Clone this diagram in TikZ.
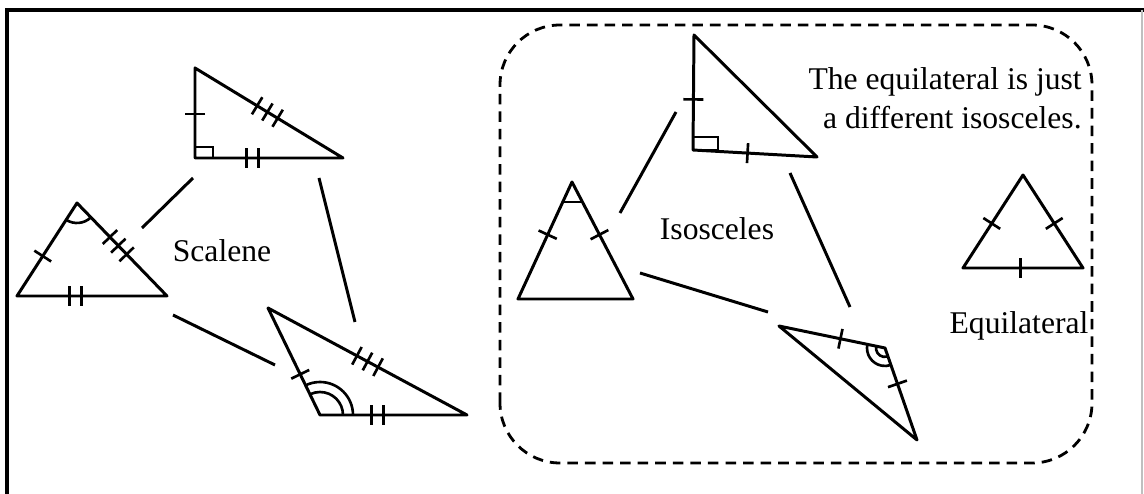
\documentclass[tikz,border=0pt]{standalone}
\usepackage{fontspec}
\setmainfont{Liberation Serif}
\usetikzlibrary{calc,angles,decorations.markings}

\begin{document}
\begin{tikzpicture}[
    x=0.02cm, y=0.02cm,
    tri/.style={line width=1.7pt, line join=round, line cap=round},
    link/.style={line width=1.7pt},
    mk/.style={line width=1.5pt},
    onetick/.style={decoration={markings, mark=at position #1 with {\draw[mk] (0,-10)--(0,10);}}, decorate},
    twoticks/.style={decoration={markings, mark=at position #1 with {\draw[mk] (-6,-10)--(-6,10) (6,-10)--(6,10);}}, decorate},
    threeticks/.style={decoration={markings, mark=at position #1 with {\draw[mk] (-12,-10)--(-12,10) (0,-10)--(0,10) (12,-10)--(12,10);}}, decorate},
    lbl/.style={font=\fontsize{18}{22}\selectfont, inner sep=0pt},
    group/.style={line width=1.6pt, dash pattern=on 6pt off 4pt, rounded corners=1.2cm},
  ]
  \useasboundingbox (0,0) rectangle (1144,494);
  % frame
  \draw[line width=2pt] (7,0) -- (7,484) -- (1144,484);
  \draw[black!25, line width=0.6pt] (1142,484) -- (1142,0);

  % scalene, right angled
  \coordinate (srt) at (195,426);
  \coordinate (src) at (195,336);
  \coordinate (srr) at (343,336);
  \draw[tri] (srt) -- (src) -- (srr) -- cycle;
  \draw[mk] (src) rectangle ++(18,11);
  \path[onetick=0.49] (src) -- (srt);
  \path[threeticks=0.49] (srt) -- (srr);
  \path[twoticks=0.39] (src) -- (srr);

  % scalene, acute
  \coordinate (saa) at (77,291);
  \coordinate (sal) at (17,198);
  \coordinate (sar) at (167,198);
  \draw[tri] (saa) -- (sal) -- (sar) -- cycle;
  \path[onetick=0.43] (sal) -- (saa);
  \path[threeticks=0.46] (saa) -- (sar);
  \path[twoticks=0.39] (sal) -- (sar);
  \pic[draw, mk, angle radius=0.4cm] {angle=sal--saa--sar};

  % scalene, obtuse
  \coordinate (sop) at (268,186);
  \coordinate (soq) at (320,79);
  \coordinate (sor) at (467,79);
  \draw[tri] (sop) -- (soq) -- (sor) -- cycle;
  \path[onetick=0.62] (sop) -- (soq);
  \path[threeticks=0.5] (sop) -- (sor);
  \path[twoticks=0.39] (soq) -- (sor);
  \pic[draw, mk, angle radius=0.66cm] {angle=sor--soq--sop};
  \pic[draw, mk, angle radius=0.46cm] {angle=sor--soq--sop};

  \node[lbl] (scal) at (222,243) {Scalene};
  \coordinate (l1a) at (193,316); \coordinate (l1b) at (142,266);
  \coordinate (l2a) at (319,316); \coordinate (l2b) at (355,172);
  \coordinate (l3a) at (173,179); \coordinate (l3b) at (275,129);
  \draw[link] (l1a) -- (l1b);
  \draw[link] (l2a) -- (l2b);
  \draw[link] (l3a) -- (l3b);

  % isosceles group
  \draw[group] (500,31) rectangle (1092,469);

  % isosceles, right angled
  \coordinate (irt) at (694,459);
  \coordinate (irc) at (693,344);
  \coordinate (irr) at (817,337);
  \draw[tri] (irt) -- (irc) -- (irr) -- cycle;
  \draw[mk] (irc) rectangle ++(25,13);
  \path[onetick=0.44] (irc) -- (irt);
  \path[onetick=0.44] (irc) -- (irr);

  % isosceles, acute
  \coordinate (ita) at (572,312);
  \coordinate (itl) at (518,195);
  \coordinate (itr) at (633,195);
  \draw[tri] (ita) -- (itl) -- (itr) -- cycle;
  \draw[mk] ($(ita)!0.17!(itl)$) -- ($(ita)!0.17!(itr)$);
  \path[onetick=0.55] (itl) -- (ita);
  \path[onetick=0.55] (itr) -- (ita);

  % isosceles, obtuse
  \coordinate (iol) at (779,168);
  \coordinate (ioo) at (885,146);
  \coordinate (iod) at (917,54);
  \draw[tri] (iol) -- (ioo) -- (iod) -- cycle;
  \path[onetick=0.58] (iol) -- (ioo);
  \path[onetick=0.39] (ioo) -- (iod);
  \pic[draw, mk, angle radius=0.36cm] {angle=iol--ioo--iod};
  \pic[draw, mk, angle radius=0.18cm] {angle=iol--ioo--iod};

  \node[lbl] (isos) at (717,265) {Isosceles};
  \coordinate (l4a) at (676,382); \coordinate (l4b) at (620,281);
  \coordinate (l5a) at (640,221); \coordinate (l5b) at (768,182);
  \coordinate (l6a) at (790,321); \coordinate (l6b) at (850,187);
  \draw[link] (l4a) -- (l4b);
  \draw[link] (l5a) -- (l5b);
  \draw[link] (l6a) -- (l6b);

  % equilateral
  \coordinate (eqa) at (1023,319);
  \coordinate (eql) at (963,226);
  \coordinate (eqr) at (1083,226);
  \draw[tri] (eqa) -- (eql) -- (eqr) -- cycle;
  \path[onetick=0.48] (eql) -- (eqa);
  \path[onetick=0.48] (eqr) -- (eqa);
  \path[onetick=0.48] (eql) -- (eqr);

  \node[lbl] (equi) at (1019,168) {Equilateral};
  \node[lbl, align=right, anchor=east] (note) at (1082,396) {The equilateral is just\\a different isosceles.};
\end{tikzpicture}
\end{document}
